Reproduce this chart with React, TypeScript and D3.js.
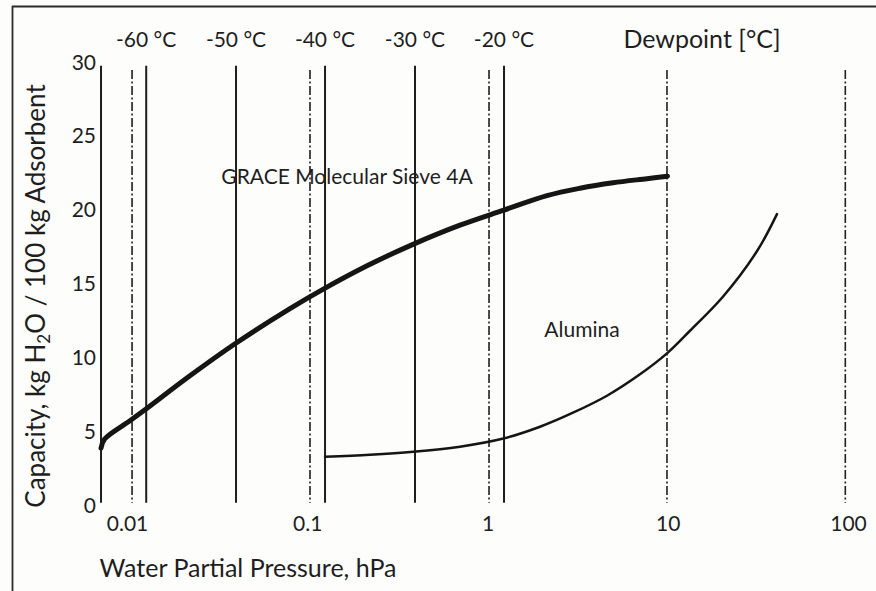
import React from "react";
import * as d3 from "d3";

// ---- data ----
const xTickValues = [0.01, 0.1, 1, 10, 100];
const xTickLabels = ["0.01", "0.1", "1", "10", "100"];
const yTickValues = [0, 5, 10, 15, 20, 25, 30];

// dewpoint lines (hPa)
const solidLinePressures = [0.0127, 0.04, 0.1247, 0.3936, 1.227];
const solidLineLabels = ["-60 °C", "-50 °C", "-40 °C", "-30 °C", "-20 °C"];
const dashDotPressures = [0.0106, 0.1029, 1.013, 9.84, 96];
const axisPressure = 0.00713;

// GRACE Molecular Sieve 4A
const sievePressure = [0.00713, 0.00745, 0.01032, 0.0125, 0.0222, 0.0395, 0.0797, 0.122, 0.2133, 0.3837, 0.6993, 1.211, 2.125, 3.239, 4.937, 7.62, 9.9];
const sieveCapacity = [3.85, 4.45, 5.7, 6.45, 8.75, 10.92, 13.3, 14.62, 16.2, 17.65, 18.95, 19.95, 20.95, 21.45, 21.82, 22.1, 22.27];

// Alumina
const aluminaPressure = [0.1247, 0.2215, 0.385, 0.6993, 1.216, 1.943, 2.962, 4.571, 6.97, 9.8, 13.2, 20.1, 31.1, 40.1];
const aluminaCapacity = [3.27, 3.4, 3.6, 3.95, 4.5, 5.3, 6.25, 7.4, 8.85, 10.25, 11.8, 14.1, 17.2, 19.7];

const W = 876;
const H = 591;
const FONT = "Lato, 'Open Sans', sans-serif";
const INK = "#1e1e1e";

export default function App() {
  const x = d3.scaleLog().domain([0.01, 100]).range([127.5, 848.5]);
  const y = d3.scaleLinear().domain([0, 30]).range([505, 62]);

  const line = d3
    .line<[number, number]>()
    .x((d) => x(d[0]))
    .y((d) => y(d[1]))
    .curve(d3.curveCatmullRom.alpha(0.5));

  const sieve = line(sievePressure.map((p, i) => [p, sieveCapacity[i]] as [number, number])) || "";
  const alumina = line(aluminaPressure.map((p, i) => [p, aluminaCapacity[i]] as [number, number])) || "";

  const lineBottom = y(0.15);
  const solidTop = y(29.75);
  const dashTop = y(29.45);

  return (
    <svg
      width={W}
      height={H}
      style={{ position: "absolute", left: 0, top: 0, background: "#fdfdfc" }}
      fontFamily={FONT}
    >
      <rect x={0} y={0} width={W} height={H} fill="#fdfdfc" />
      {/* frame */}
      <line x1={12.5} y1={6} x2={12.5} y2={H} stroke="#2a2a2a" strokeWidth={1.8} />
      <line x1={12} y1={6.5} x2={W} y2={6.5} stroke="#2a2a2a" strokeWidth={1.8} />

      {/* y axis line */}
      <line x1={x(axisPressure)} x2={x(axisPressure)} y1={solidTop} y2={lineBottom} stroke={INK} strokeWidth={2} />

      {/* solid dewpoint lines */}
      {solidLinePressures.map((p, i) => (
        <line key={"s" + i} x1={x(p)} x2={x(p)} y1={solidTop} y2={lineBottom} stroke={INK} strokeWidth={2} />
      ))}
      {/* dash-dot lines */}
      {dashDotPressures.map((p, i) => (
        <line
          key={"d" + i}
          x1={x(p)}
          x2={x(p)}
          y1={dashTop}
          y2={lineBottom}
          stroke={INK}
          strokeWidth={1.6}
          strokeDasharray="9,2.5,2,2.5"
        />
      ))}

      {/* curves */}
      <path d={sieve} fill="none" stroke="#151515" strokeWidth={5} strokeLinecap="round" strokeLinejoin="round" />
      <path d={alumina} fill="none" stroke="#151515" strokeWidth={2.5} strokeLinecap="round" />

      {/* top labels */}
      {solidLineLabels.map((t, i) => (
        <text key={"t" + i} x={x(solidLinePressures[i])} y={47} textAnchor="middle" fontSize={21} fill={INK}>
          {t}
        </text>
      ))}
      <text x={702} y={48} textAnchor="middle" fontSize={25} fill={INK}>
        Dewpoint [°C]
      </text>

      {/* y ticks */}
      {yTickValues.map((v) => (
        <text key={"y" + v} x={96} y={y(v)} dy="0.36em" textAnchor="end" fontSize={21} fill={INK}>
          {v}
        </text>
      ))}
      {/* x ticks */}
      {xTickValues.map((v, i) => (
        <text key={"x" + v} x={x(v)} y={531} textAnchor="middle" fontSize={21} fill={INK}>
          {xTickLabels[i]}
        </text>
      ))}

      {/* annotations */}
      <text x={347} y={184} textAnchor="middle" fontSize={21} fill={INK}>
        GRACE Molecular Sieve 4A
      </text>
      <text x={582} y={337} textAnchor="middle" fontSize={21} fill={INK}>
        Alumina
      </text>

      {/* axis titles */}
      <text x={248} y={577} textAnchor="middle" fontSize={25} fill={INK}>
        Water Partial Pressure, hPa
      </text>
      <text transform="translate(45,296) rotate(-90)" textAnchor="middle" fontSize={26} fill={INK}>
        Capacity, kg H
        <tspan fontSize={17} dy={5}>2</tspan>
        <tspan dy={-5}>O / 100 kg Adsorbent</tspan>
      </text>
    </svg>
  );
}
